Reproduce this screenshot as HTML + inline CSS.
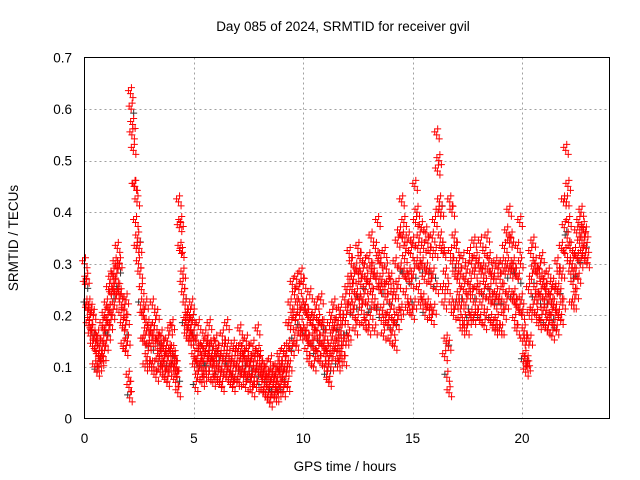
<!DOCTYPE html>
<html><head><meta charset="utf-8"><style>
html,body{margin:0;padding:0;background:#fff;width:640px;height:480px;overflow:hidden}
svg text{font-family:"Liberation Sans",Arial,sans-serif;font-size:13.5px;fill:#000}
</style></head><body>
<svg id="chart" width="640" height="480" viewBox="0 0 640 480" xmlns="http://www.w3.org/2000/svg">
<rect width="640" height="480" fill="#fff"/>
<g id="grid"></g>
<g id="marks"></g>
<rect x="84.5" y="57.5" width="525" height="361" fill="none" stroke="#000" stroke-width="1"/>
<g id="ticks"></g>
<text x="343" y="31" text-anchor="middle">Day 085 of 2024, SRMTID for receiver gvil</text>
<text x="345" y="471" text-anchor="middle">GPS time / hours</text>
<text transform="translate(18,238) rotate(-90)" text-anchor="middle">SRMTID / TECUs</text>
</svg>
<script>
const xTicks=[0,5,10,15,20];
const yTicks=[0,0.1,0.2,0.3,0.4,0.5,0.6,0.7];
const yTickLabels=["0","0.1","0.2","0.3","0.4","0.5","0.6","0.7"];
const upper=[0.30,0.27,0.22,0.21,0.20,0.15,0.16,0.14,0.18,0.20,
0.22,0.25,0.27,0.28,0.30,0.33,0.30,0.22,0.21,0.23,
0.08,0.63,0.57,0.45,0.42,0.33,0.25,0.20,0.22,0.18,
0.17,0.22,0.18,0.20,0.15,0.16,0.14,0.13,0.15,0.17,
0.18,0.12,0.10,0.42,0.38,0.28,0.22,0.20,0.20,0.22,
0.12,0.15,0.18,0.13,0.14,0.16,0.15,0.18,0.12,0.14,
0.15,0.13,0.12,0.16,0.14,0.18,0.12,0.11,0.14,0.13,
0.13,0.17,0.14,0.12,0.15,0.13,0.11,0.14,0.12,0.17,
0.12,0.10,0.09,0.10,0.08,0.11,0.09,0.08,0.10,0.12,
0.10,0.13,0.12,0.18,0.22,0.26,0.24,0.27,0.25,0.28,
0.26,0.22,0.20,0.24,0.18,0.20,0.22,0.19,0.23,0.18,
0.16,0.13,0.18,0.20,0.22,0.17,0.19,0.21,0.19,0.23,
0.25,0.32,0.30,0.27,0.29,0.33,0.31,0.28,0.30,0.27,
0.31,0.35,0.28,0.33,0.38,0.30,0.27,0.32,0.29,0.26,
0.27,0.24,0.30,0.34,0.36,0.42,0.38,0.33,0.35,0.32,
0.34,0.45,0.40,0.35,0.37,0.33,0.36,0.34,0.32,0.35,
0.38,0.55,0.50,0.40,0.32,0.28,0.25,0.42,0.40,0.35,
0.33,0.30,0.28,0.31,0.27,0.29,0.32,0.30,0.34,0.31,
0.30,0.34,0.29,0.32,0.35,0.31,0.28,0.27,0.30,0.29,
0.27,0.30,0.33,0.36,0.40,0.35,0.30,0.28,0.33,0.38,
0.20,0.17,0.15,0.25,0.32,0.34,0.30,0.28,0.29,0.31,
0.27,0.25,0.28,0.24,0.26,0.25,0.30,0.28,0.33,0.42,
0.52,0.45,0.33,0.30,0.32,0.36,0.38,0.40,0.37,0.36];
const middle=[0.26,0.21,0.19,0.17,0.16,0.13,0.12,0.12,0.15,0.17,
0.19,0.21,0.24,0.25,0.27,0.29,0.24,0.18,0.17,0.19,
0.06,0.60,0.52,0.38,0.35,0.28,0.20,0.15,0.17,0.14,
0.14,0.16,0.14,0.15,0.12,0.13,0.11,0.10,0.12,0.13,
0.13,0.10,0.08,0.37,0.32,0.24,0.19,0.18,0.17,0.19,
0.10,0.11,0.13,0.10,0.11,0.13,0.12,0.14,0.10,0.11,
0.12,0.10,0.09,0.12,0.11,0.14,0.09,0.08,0.11,0.10,
0.10,0.13,0.11,0.09,0.11,0.10,0.08,0.11,0.09,0.13,
0.09,0.08,0.07,0.07,0.06,0.08,0.07,0.06,0.08,0.09,
0.08,0.10,0.09,0.14,0.18,0.20,0.19,0.22,0.20,0.22,
0.21,0.17,0.15,0.19,0.14,0.16,0.17,0.15,0.18,0.14,
0.12,0.10,0.14,0.16,0.18,0.13,0.15,0.17,0.15,0.19,
0.21,0.27,0.25,0.22,0.24,0.28,0.26,0.23,0.25,0.22,
0.26,0.29,0.22,0.27,0.31,0.25,0.21,0.25,0.23,0.20,
0.22,0.19,0.24,0.26,0.29,0.35,0.31,0.27,0.28,0.26,
0.28,0.38,0.33,0.29,0.30,0.27,0.29,0.28,0.26,0.28,
0.32,0.48,0.42,0.33,0.22,0.15,0.14,0.32,0.30,0.28,
0.27,0.24,0.22,0.25,0.22,0.24,0.26,0.24,0.28,0.25,
0.25,0.28,0.24,0.26,0.29,0.25,0.23,0.22,0.24,0.23,
0.22,0.25,0.28,0.30,0.34,0.29,0.24,0.22,0.27,0.30,
0.15,0.12,0.11,0.20,0.27,0.29,0.25,0.23,0.24,0.26,
0.23,0.21,0.23,0.20,0.22,0.21,0.25,0.24,0.28,0.37,
0.42,0.38,0.28,0.26,0.28,0.31,0.34,0.36,0.34,0.33];
const lower=[0.22,0.18,0.16,0.14,0.10,0.09,0.10,0.11,0.12,0.14,
0.16,0.18,0.20,0.22,0.24,0.25,0.20,0.14,0.13,0.15,
0.04,0.55,0.45,0.33,0.30,0.22,0.15,0.10,0.12,0.10,
0.10,0.10,0.08,0.11,0.09,0.10,0.08,0.07,0.09,0.10,
0.10,0.07,0.05,0.33,0.26,0.18,0.16,0.15,0.15,0.16,
0.06,0.08,0.10,0.07,0.08,0.10,0.08,0.11,0.07,0.08,
0.08,0.07,0.06,0.09,0.08,0.10,0.07,0.06,0.08,0.07,
0.07,0.09,0.08,0.06,0.08,0.07,0.05,0.08,0.06,0.09,
0.06,0.05,0.05,0.04,0.03,0.05,0.04,0.04,0.05,0.06,
0.05,0.07,0.06,0.10,0.13,0.15,0.14,0.17,0.16,0.17,
0.16,0.13,0.11,0.14,0.10,0.12,0.13,0.11,0.14,0.10,
0.08,0.07,0.10,0.12,0.14,0.10,0.11,0.13,0.11,0.15,
0.16,0.22,0.20,0.17,0.19,0.23,0.21,0.18,0.19,0.17,
0.20,0.24,0.17,0.21,0.25,0.19,0.16,0.19,0.18,0.15,
0.17,0.14,0.18,0.20,0.21,0.28,0.24,0.21,0.22,0.20,
0.22,0.30,0.25,0.22,0.23,0.20,0.22,0.21,0.19,0.21,
0.25,0.40,0.35,0.25,0.12,0.08,0.05,0.22,0.20,0.22,
0.22,0.19,0.17,0.19,0.17,0.19,0.20,0.19,0.22,0.20,
0.19,0.22,0.18,0.20,0.23,0.19,0.18,0.17,0.19,0.17,
0.17,0.20,0.22,0.24,0.28,0.23,0.19,0.17,0.21,0.23,
0.11,0.09,0.10,0.15,0.21,0.23,0.20,0.18,0.19,0.21,
0.18,0.17,0.19,0.16,0.18,0.17,0.20,0.19,0.22,0.32,
0.35,0.30,0.22,0.22,0.24,0.27,0.30,0.32,0.31,0.30];
const timeStep=0.1;

const X0=84.5,X1=609.5,Y0=418.5,Y1=57.5,XMAX=24,YMAX=0.7;
function xs(t){return X0+(t/XMAX)*(X1-X0);}
function ys(v){return Y0-(v/YMAX)*(Y0-Y1);}
const NS="http://www.w3.org/2000/svg";
const grid=document.getElementById('grid'),ticks=document.getElementById('ticks'),marks=document.getElementById('marks');
function mk(tag,attrs,parent){const e=document.createElementNS(NS,tag);for(const k in attrs)e.setAttribute(k,attrs[k]);parent.appendChild(e);return e;}
xTicks.forEach((t,i)=>{
  const x=Math.round(xs(t))+0.5;
  if(i>0){const g=mk('line',{x1:x,x2:x,y1:Y1,y2:Y0,stroke:'#a0a0a0','stroke-dasharray':'2,3'},grid);
  
  }
  const l=mk('text',{x:xs(t),y:443,'text-anchor':'middle'},ticks);l.textContent=String(t);
  
  
});
yTicks.forEach((v,i)=>{
  const y=Math.round(ys(v))+0.5;
  if(i>0&&i<yTicks.length-1){const g=mk('line',{x1:X0,x2:X1,y1:y,y2:y,stroke:'#a0a0a0','stroke-dasharray':'2,3'},grid);
  
  }
  const l=mk('text',{x:72,y:ys(v)+5,'text-anchor':'end'},ticks);l.textContent=yTickLabels[i];
  
  
});
function plus(x,y,color){
  const p=mk('path',{d:`M${x-3.5},${y}H${x+3.5}M${x},${y-3.5}V${y+3.5}`,stroke:color,'stroke-width':1,fill:'none'},marks);
  
  
}
const series=[upper,middle,lower];
const cluster=[[0,0],[2.5,4],[-2,-3],[1,-6]];
function drawAll(pass){
  series.forEach((arr,s)=>{
    arr.forEach((v,i)=>{
      const t=i*timeStep+s*0.033;
      const x=xs(t),y=ys(v);
      cluster.forEach((c,k)=>{
        const dark=(s===1&&k===1&&i%3===0)||(s===2&&k===2&&i%5===0);
        if((pass===0)===dark)plus(x+c[0],y+c[1],dark?'#333':'#ff0000');
      });
    });
  });
}
drawAll(0);drawAll(1);
</script>
</body></html>
